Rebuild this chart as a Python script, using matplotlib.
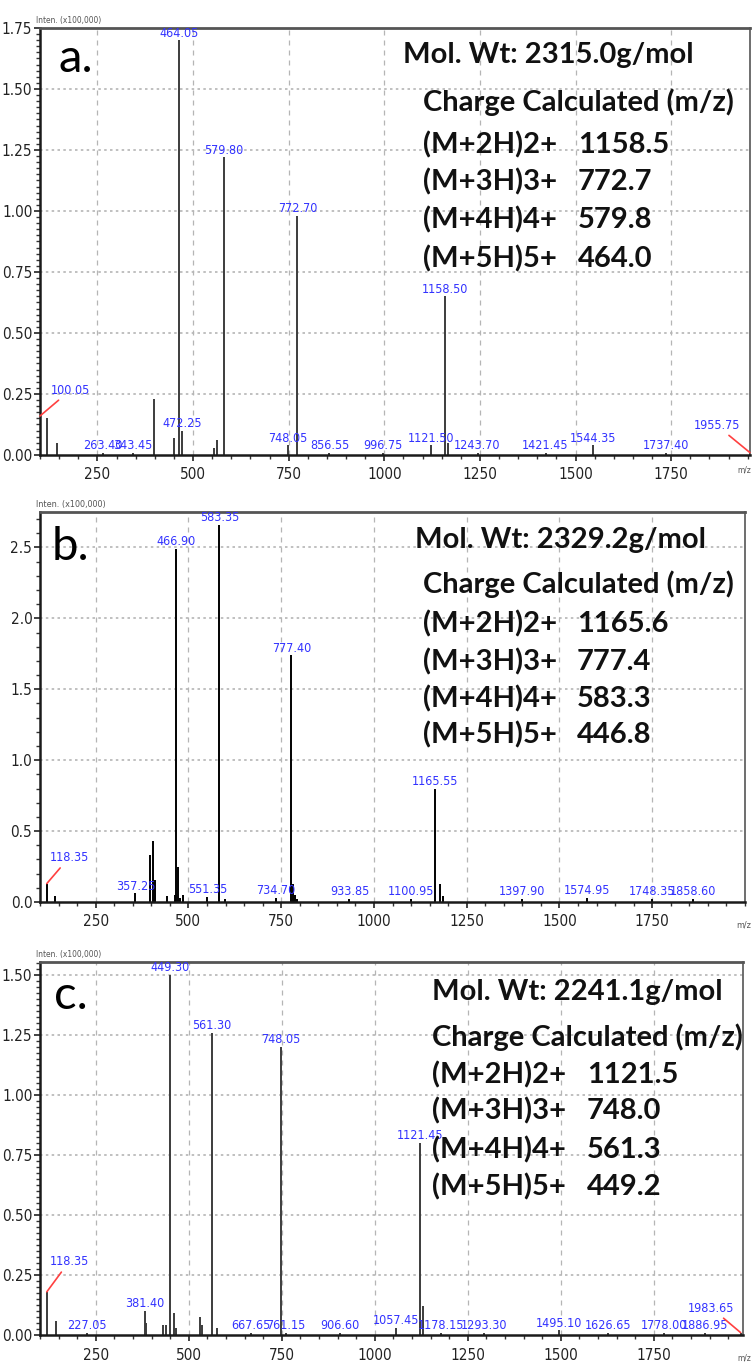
import matplotlib
matplotlib.use("Agg")
import matplotlib.pyplot as plt
from matplotlib.ticker import MultipleLocator, FixedLocator, FormatStrFormatter
from matplotlib import font_manager
from matplotlib.font_manager import FontProperties

W, H = 752, 1366

# ---------------- data ----------------
# Panel a
a_mz = [100.05, 118.0, 145.0, 263.40, 343.45, 397.0, 449.0, 464.05, 472.25,
        555.0, 562.0, 579.80, 748.05, 772.70, 856.55, 996.75, 1121.50,
        1158.50, 1167.0, 1243.70, 1421.45, 1544.35, 1737.40, 1955.75]
a_int = [0.16, 0.15, 0.05, 0.01, 0.01, 0.23, 0.07, 1.70, 0.10,
         0.03, 0.06, 1.22, 0.04, 0.98, 0.01, 0.01, 0.04,
         0.65, 0.05, 0.01, 0.01, 0.04, 0.01, 0.01]
a_labels = [100.05, 263.40, 343.45, 464.05, 472.25, 579.80, 748.05, 772.70,
            856.55, 996.75, 1121.50, 1158.50, 1243.70, 1421.45, 1544.35,
            1737.40, 1955.75]
a_molwt = "2315.0"
a_calc = ["1158.5", "772.7", "579.8", "464.0"]

# Panel b
b_mz = [118.35, 140.0, 357.25, 396.0, 404.0, 409.0, 443.0, 463.0, 466.90,
        473.0, 478.0, 485.0, 551.35, 583.35, 598.0, 734.70, 777.40, 781.0,
        786.0, 793.0, 933.85, 1100.95, 1165.55, 1178.0, 1186.0, 1397.90,
        1574.95, 1748.35, 1858.60]
b_int = [0.13, 0.04, 0.06, 0.33, 0.43, 0.155, 0.04, 0.05, 2.49,
         0.25, 0.03, 0.05, 0.035, 2.66, 0.02, 0.03, 1.74, 0.13,
         0.05, 0.02, 0.02, 0.02, 0.80, 0.13, 0.04, 0.02,
         0.03, 0.02, 0.02]
b_labels = [118.35, 357.25, 466.90, 551.35, 583.35, 734.70, 777.40, 933.85,
            1100.95, 1165.55, 1397.90, 1574.95, 1748.35, 1858.60]
b_molwt = "2329.2"
b_calc = ["1165.6", "777.4", "583.3", "446.8"]

# Panel c
c_mz = [118.35, 143.0, 227.05, 381.40, 386.0, 431.0, 440.0, 449.30, 460.0,
        466.0, 530.0, 535.0, 561.30, 575.0, 667.65, 748.05, 761.15, 906.60,
        1057.45, 1121.45, 1130.0, 1178.15, 1293.30, 1495.10, 1626.65,
        1778.00, 1886.95, 1983.65]
c_int = [0.18, 0.06, 0.01, 0.10, 0.05, 0.04, 0.04, 1.50, 0.09,
         0.03, 0.075, 0.04, 1.26, 0.03, 0.01, 1.20, 0.01, 0.01,
         0.03, 0.80, 0.12, 0.01, 0.01, 0.02, 0.01,
         0.01, 0.01, 0.01]
c_labels = [118.35, 227.05, 381.40, 449.30, 561.30, 667.65, 748.05, 761.15,
            906.60, 1057.45, 1121.45, 1178.15, 1293.30, 1495.10, 1626.65,
            1778.00, 1886.95, 1983.65]
c_molwt = "2241.1"
c_calc = ["1121.5", "748.0", "561.3", "449.2"]

ions = ["(M+2H)2+", "(M+3H)3+", "(M+4H)4+", "(M+5H)5+"]
x_ticks = [250, 500, 750, 1000, 1250, 1500, 1750]

# ---------------- fonts ----------------
# Prefer a condensed sans for the instrument-style labels.
narrow_file = None
for entry in font_manager.fontManager.ttflist:
    name = entry.name
    if entry.style != "normal":
        continue
    w = entry.weight if isinstance(entry.weight, int) else 400
    if w > 500:
        continue
    if name in ("Liberation Sans Narrow", "Roboto Condensed", "Open Sans Condensed",
                "Noto Sans Condensed") or (
            name in ("DejaVu Sans", "Noto Sans", "Open Sans", "Roboto")
            and entry.stretch in ("condensed", "semi-condensed")):
        narrow_file = entry.fname
        break

if narrow_file:
    def NARROW(size):
        return FontProperties(fname=narrow_file, size=size)
    LBL_A, LBL_B, TICK = 9.0, 9.0, 11.0
else:
    def NARROW(size):
        return FontProperties(family="Liberation Sans", size=size)
    LBL_A, LBL_B, TICK = 8.0, 8.0, 11.0

available = {f.name for f in font_manager.fontManager.ttflist}
BOLD = "Lato" if "Lato" in available else "DejaVu Sans"

fig = plt.figure(figsize=(W / 100, H / 100), dpi=100)


def px_axes(left, top, right, bottom):
    return fig.add_axes([left / W, 1 - bottom / H, (right - left) / W, (bottom - top) / H])


def draw_panel(ax, mz, inten, labels, xlim, ylim, yticks, yfmt, yminor,
               leaders, line_color, label_size):
    ax.set_xlim(*xlim)
    ax.set_ylim(*ylim)
    # grid
    for xt in x_ticks:
        ax.axvline(xt, color="#b5b5b5", lw=0.9, ls=(0, (4, 4)), zorder=0)
    for yt in yticks[1:]:
        ax.axhline(yt, color="#b5b5b5", lw=1.2, ls=(0, (1.5, 2.0)), zorder=0)
    # peaks
    ax.vlines(mz, 0, inten, color=line_color, lw=1.4, zorder=2)
    lookup = dict(zip(mz, inten))
    for m in labels:
        h = lookup[m]
        txt = f"{m:.2f}"
        if m in leaders:
            dx, dy = leaders[m]
            ax.annotate(txt, xy=(m, h), xytext=(dx, dy), textcoords="offset points",
                        ha="center", va="bottom", color="#3232ff",
                        fontproperties=NARROW(label_size),
                        annotation_clip=False, zorder=4,
                        arrowprops=dict(arrowstyle="-", color="#ff4040", lw=1.2,
                                        shrinkA=1, shrinkB=0))
        else:
            ax.annotate(txt, xy=(m, h), xytext=(0, 0.5), textcoords="offset points",
                        ha="center", va="bottom", color="#3232ff",
                        fontproperties=NARROW(label_size),
                        annotation_clip=False, zorder=4)
    # ticks
    ax.xaxis.set_major_locator(FixedLocator(x_ticks))
    ax.xaxis.set_minor_locator(MultipleLocator(50))
    ax.yaxis.set_major_locator(FixedLocator(yticks))
    ax.yaxis.set_minor_locator(MultipleLocator(yminor))
    ax.yaxis.set_major_formatter(FormatStrFormatter(yfmt))
    ax.tick_params(axis="both", which="major", direction="out", length=4,
                   width=1.2, color="#222222", labelcolor="#222222", pad=1.5)
    ax.tick_params(axis="both", which="minor", direction="out", length=3,
                   width=1.0, color="#333333")
    ax.tick_params(axis="x", which="major", pad=5)
    for lab in ax.get_xticklabels() + ax.get_yticklabels():
        lab.set_fontproperties(NARROW(TICK))
    for side in ("left", "bottom"):
        ax.spines[side].set_linewidth(1.8)
        ax.spines[side].set_color("#1a1a1a")
    ax.spines["top"].set_linewidth(2.0)
    ax.spines["top"].set_color("#555555")
    ax.spines["right"].set_linewidth(1.2)
    ax.spines["right"].set_color("#555555")


def ptxt(x, y, s, **kw):
    fig.text(x / W, 1 - y / H, s, **kw)


def table(left_mol, base_mol, left_rows, base_charge, row_bases, val_left, molwt, calc):
    kw = dict(fontsize=21, fontweight="bold", family=BOLD, color="#111111",
              va="baseline", ha="left")
    ptxt(left_mol, base_mol, f"Mol. Wt: {molwt}g/mol", **kw)
    ptxt(left_rows, base_charge, "Charge Calculated (m/z)", **kw)
    for ion, val, yb in zip(ions, calc, row_bases):
        ptxt(left_rows, yb, ion, **kw)
        ptxt(val_left, yb, val, **kw)


def corner_texts(y_inten, y_mz, size):
    ptxt(36, y_inten, "Inten. (x100,000)", fontproperties=NARROW(size),
         color="#555555", va="center")
    ptxt(751, y_mz, "m/z", fontproperties=NARROW(size), color="#555555",
         va="center", ha="right")


# ---------------- panel a ----------------
ax_a = px_axes(40, 28, 750, 455)
draw_panel(ax_a, a_mz, a_int, a_labels, (100, 1956), (0, 1.75),
           [0, 0.25, 0.5, 0.75, 1.0, 1.25, 1.5, 1.75], "%.2f", 0.025,
           {100.05: (22, 14), 1955.75: (-24, 15)}, "#3c3c3c", LBL_A)
corner_texts(20, 470, 6)
ptxt(59, 72, "a.", fontsize=34, family=BOLD, color="#000000", va="baseline")
table(403, 63, 423, 111, [153, 190, 228, 267], 578, a_molwt, a_calc)

# ---------------- panel b ----------------
ax_b = px_axes(40, 512, 745, 902)
draw_panel(ax_b, b_mz, b_int, b_labels, (100, 2000), (0, 2.75),
           [0, 0.5, 1.0, 1.5, 2.0, 2.5], "%.1f", 0.1,
           {118.35: (16, 14)}, "#000000", LBL_B)
corner_texts(504, 925, 6.5)
ptxt(52, 560, "b.", fontsize=34, family=BOLD, color="#000000", va="baseline")
table(415, 548, 423, 593, [632, 670, 707, 743], 577, b_molwt, b_calc)

# ---------------- panel c ----------------
ax_c = px_axes(40, 962, 743, 1335)
draw_panel(ax_c, c_mz, c_int, c_labels, (100, 1990), (0, 1.555),
           [0, 0.25, 0.5, 0.75, 1.0, 1.25, 1.5], "%.2f", 0.025,
           {118.35: (16, 17), 1983.65: (-21, 13)}, "#3c3c3c", LBL_A)
corner_texts(955, 1358, 6)
ptxt(54, 1009, "c.", fontsize=34, family=BOLD, color="#000000", va="baseline")
table(432, 1000, 432, 1046, [1083, 1119, 1158, 1195], 587, c_molwt, c_calc)

fig.savefig("out.png", dpi=100, facecolor="white")
